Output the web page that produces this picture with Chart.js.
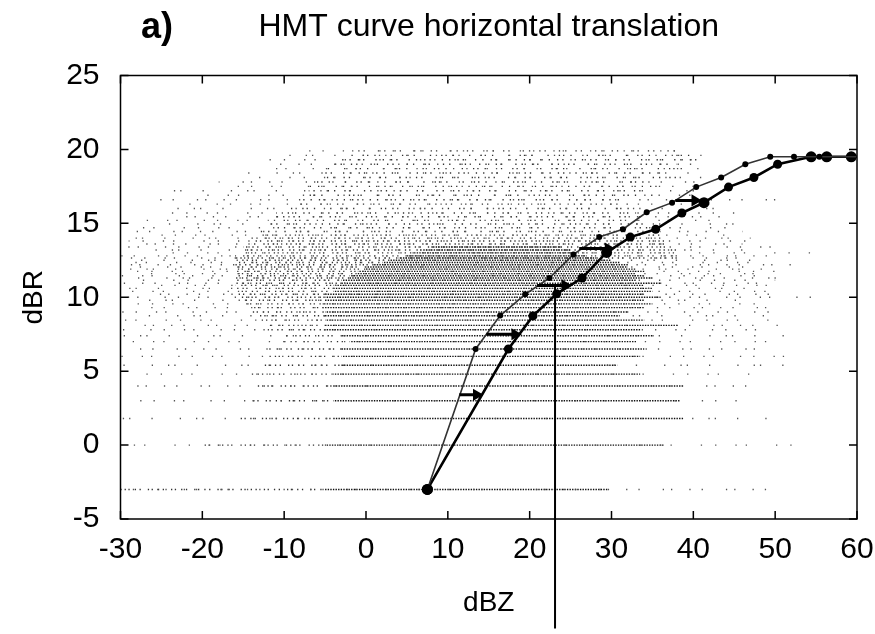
<!DOCTYPE html>
<html>
<head>
<meta charset="utf-8">
<title>HMT curve horizontal translation</title>
<script src="https://cdn.jsdelivr.net/npm/chart.js@4.4.1/dist/chart.umd.min.js"></script>
<style>
    html, body { margin: 0; padding: 0; background: #fff; }
    #wrap { width: 875px; height: 634px; }
</style>
</head>
<body>
<div id="wrap"><canvas id="hmtChart" width="875" height="634"></canvas></div>
<script>
/* ========================================
   HMT curve - horizontal translation (dBR vs dBZ)
   ======================================== */

// axis ticks
const xTicks = [-30, -20, -10, 0, 10, 20, 30, 40, 50, 60];
const yTicks = [-5, 0, 5, 10, 15, 20, 25];

// original HMT curve (thin line, small dots)
const hmtX = [7.5, 13.4, 16.4, 19.45, 22.4, 25.35, 28.5, 31.4, 34.3, 37.4, 40.35, 43.4, 46.35, 49.4, 52.3, 55.4, 60];
const hmtY = [-3, 6.5, 8.76, 10.2, 11.3, 12.9, 14.07, 14.6, 15.75, 16.4, 17.45, 18.1, 19.0, 19.5, 19.5, 19.5, 19.5];

// translated curve (thick line, big dots)
const movedX = [7.5, 17.4, 20.4, 23.3, 26.4, 29.4, 32.3, 35.4, 38.6, 41.3, 44.3, 47.4, 50.3, 54.4, 56.3, 59.3, 60];
const movedY = [-3, 6.5, 8.74, 10.23, 11.3, 13.03, 14.07, 14.6, 15.7, 16.4, 17.45, 18.1, 19.0, 19.5, 19.5, 19.5, 19.5];

// horizontal arrows (tail x, head x, level)
const arrowY = [3.4, 7.5, 10.8, 13.3, 16.55];
const arrowFrom = [11.4, 14.7, 20.9, 26.05, 37.8];
const arrowTo = [13.5, 18.2, 24.3, 29.6, 40.2];

// vertical arrow going down out of the plot
const downX = 23.1;
const downFrom = 10.8;
const downTo = -12.4;

// scatter cloud: quantised dBR rows and the x extents of their sparse / medium / dense parts
const cloudY = [-3.0, 0.0, 1.8, 3.0, 4.0, 4.8, 5.4, 6.0, 6.5, 7.0, 7.4, 7.8, 8.1, 8.45, 8.75, 9.0, 9.3, 9.55, 9.8, 10.0,
    10.2, 10.4, 10.6, 10.8, 10.95, 11.15, 11.3, 11.45, 11.6, 11.75, 11.9, 12.05, 12.2, 12.35, 12.5, 12.65, 12.8, 13.0, 13.2, 13.4,
    13.6, 13.8, 14.0, 14.2, 14.45, 14.7, 14.95, 15.2, 15.45, 15.7, 16.0, 16.3, 16.6, 16.9, 17.2, 17.5, 17.8, 18.1, 18.4, 18.7,
    19.0, 19.3, 19.6, 19.9];
const sparseFrom = [-30, -30, -30, -29.5, -29, -30, -30, -30, -28.5, -30, -30, -30, -29, -30, -29, -30, -28, -30, -29, -30,
    -28, -29, -30, -27, -30, -28, -29, -30, -27, -29, -30, -28, -29, -30, -28, -29, -30, -27, -29, -30,
    -28, -29, -30, -27, -29, -28, -26, -27, -24, -26, -25, -22, -27, -20, -24, -16, -18, -14, -15, -12,
    -11, -13, -10, -9];
const sparseTo = [50.5, 52.5, 49.5, 46, 46.5, 47.5, 51.5, 52, 48.5, 49.6, 52.7, 49.4, 51, 50.6, 50, 49.5, 50, 49.5, 47, 56,
    51, 50, 49, 50, 48, 50, 52, 49, 48, 51, 50, 48, 52, 49, 50, 47, 51, 54.5, 47, 50,
    46, 48, 47, 45, 46, 44, 45, 43, 44, 46, 45, 42, 52, 41, 42, 40, 42, 41, 40, 41,
    42, 43, 42, 40];
const midFrom = [-29.5, -20, -16, -14, -14, -14, -13, -12, -12, -10, -10, -12, -12, -13, -13, -14, -14, -15, -15, -16,
    -16, -16, -16, -16, -16, -16, -16, -16, -16, -16, -16, -16, -16, -16, -16, -16, -16, -15, -15, -15,
    -14, -14, -14, -13, -13, -12, -12, -12, -11, -11, -10, -9, -8, -8, -7, -7, -6, -6, -5, -5,
    -4, -4, -3, -2];
const midTo = [-5, -5, -4, -4, -4, -4, -3, -3, -3, -2, -3, -5, -5, -5, -5, -5, -5, -5, -5, -5,
    -5, -4, -4, -4, -3, -3, -2, -2, -1, -1, 0, 0, 1, 2, 3, 38, 38, 38, 38, 37,
    37, 37, 36, 36, 36, 35, 35, 34, 34, 33, 33, 32, 31, 35, 34, 36, 35, 38, 36, 40,
    38, 41, 40, 38];
const denseFrom = [-5, -5, -4, -4, -4, -4, -3, -3, -3, -2, -3, -5, -5, -5, -5, -5, -5, -5, -5, -5,
    -5, -4, -4, -4, -3, -3, -2, -2, -1, -1, 0, 0, 1, 2, 3, 4, 5, 6, 7, 8,
    null, null, null, null, null, null, null, null, null, null, null, null, null, null, null, null, null, null, null, null,
    null, null, null, null];
const denseTo = [29.5, 36.5, 38.8, 38.4, 38.8, 33.5, 30.7, 33.5, 34, 33, 35, 33.5, 38, 34, 31, 32, 34, 35, 34, 36,
    34, 35, 35, 34, 36, 33, 35, 34, 33, 34, 33, 32, 32, 31, 30, 28, 27, 26, 25, 24,
    null, null, null, null, null, null, null, null, null, null, null, null, null, null, null, null, null, null, null, null,
    null, null, null, null];

// dot patterns used to draw the cloud rows
const sparseDash = [
    [1.3, 11, 1.3, 23, 1.3, 7, 1.3, 17],
    [1.3, 19, 1.3, 9, 1.3, 29, 1.3, 13],
    [1.3, 15, 1.3, 5, 1.3, 21, 1.3, 27],
    [1.3, 8, 1.3, 26, 1.3, 12, 1.3, 19]
];
const midDash = [
    [1.3, 2.5, 1.3, 5, 1.3, 3.5, 1.3, 7],
    [1.3, 4, 1.3, 2.5, 1.3, 8, 1.3, 3],
    [1.3, 3, 1.3, 6, 1.3, 2.5, 1.3, 4.5]
];
const looseDash = [
    [1.3, 5, 1.3, 9, 1.3, 4, 1.3, 13],
    [1.3, 7, 1.3, 4, 1.3, 11, 1.3, 6],
    [1.3, 10, 1.3, 3, 1.3, 6, 1.3, 15]
];
const denseDash = [1.4, 1.2];

function rowLine(y, from, to, dash, offset, color) {
    return {
        data: [{ x: from, y: y }, { x: to, y: y }],
        borderColor: color,
        borderWidth: 1.4,
        borderDash: dash,
        borderDashOffset: offset,
        pointRadius: 0,
        order: 5
    };
}

function buildCloud() {
    const sets = [];
    cloudY.forEach((y, i) => {
        sets.push(rowLine(y, sparseFrom[i], sparseTo[i], sparseDash[i % 4], i * 7, '#555'));
        if (midFrom[i] !== null) {
            const dash = y > 14.3 ? looseDash[i % 3] : midDash[i % 3];
            sets.push(rowLine(y, midFrom[i], midTo[i], dash, i * 3, '#333'));
        }
        if (denseFrom[i] !== null) {
            sets.push(rowLine(y, denseFrom[i], denseTo[i], denseDash, i % 2, '#111'));
        }
    });
    return sets;
}

function buildArrows() {
    const sets = arrowY.map((y, i) => ({
        data: [{ x: arrowFrom[i], y: y }, { x: arrowTo[i], y: y }],
        borderColor: '#000',
        backgroundColor: '#000',
        borderWidth: 3,
        pointStyle: 'triangle',
        pointRotation: 90,
        pointRadius: [0, 7],
        pointBorderWidth: 0,
        order: 0
    }));
    sets.push({
        data: [{ x: downX, y: downFrom }, { x: downX, y: downTo }],
        borderColor: '#000',
        backgroundColor: '#000',
        borderWidth: 2,
        pointStyle: 'triangle',
        pointRotation: 180,
        pointRadius: [0, 6],
        pointBorderWidth: 0,
        clip: false,
        order: 0
    });
    return sets;
}

const hmtRadius = hmtX.map((x, i) => i === 0 ? 5.5 : (i === hmtX.length - 1 ? 0 : 3));
const movedRadius = movedX.map((x, i) => {
    if (i === movedX.length - 1) return 0;
    if (i === 0 || i === 5 || i === 9 || i >= 13) return 5.5;
    return 4.5;
});

// frame with inward ticks on all four sides (gnuplot style)
const framePlugin = {
    id: 'frame',
    afterDatasetsDraw(chart) {
        const { ctx, chartArea: a, scales } = chart;
        ctx.save();
        ctx.strokeStyle = '#000';
        ctx.lineWidth = 1.5;
        ctx.strokeRect(a.left, a.top, a.right - a.left, a.bottom - a.top);
        const len = 8;
        ctx.beginPath();
        xTicks.forEach(v => {
            const px = scales.x.getPixelForValue(v);
            ctx.moveTo(px, a.bottom); ctx.lineTo(px, a.bottom - len);
            ctx.moveTo(px, a.top); ctx.lineTo(px, a.top + len);
        });
        yTicks.forEach(v => {
            const py = scales.y.getPixelForValue(v);
            ctx.moveTo(a.left, py); ctx.lineTo(a.left + len, py);
            ctx.moveTo(a.right, py); ctx.lineTo(a.right - len, py);
        });
        ctx.stroke();
        ctx.restore();
    }
};

// panel letter on the left, title centred over the plot
const titlePlugin = {
    id: 'panelTitle',
    afterDraw(chart) {
        const { ctx, chartArea: a } = chart;
        ctx.save();
        ctx.fillStyle = '#000';
        ctx.textBaseline = 'middle';
        ctx.textAlign = 'left';
        ctx.font = "bold 36px 'Liberation Sans', Arial, sans-serif";
        ctx.fillText('a)', 141, 28);
        ctx.textAlign = 'center';
        ctx.font = "32px 'Liberation Sans', Arial, sans-serif";
        ctx.fillText('HMT curve horizontal translation', (a.left + a.right) / 2, 27);
        ctx.restore();
    }
};

// keep the plot frame where it is, no extra room for edge tick labels
function noEdgePadding(s) {
    s.paddingLeft = 0;
    s.paddingRight = 0;
    s.paddingTop = 0;
    s.paddingBottom = 0;
}

Chart.defaults.font.family = "'Liberation Sans', Arial, sans-serif";
Chart.defaults.color = '#000';

new Chart(document.getElementById('hmtChart'), {
    type: 'line',
    data: {
        datasets: [
            ...buildArrows(),
            {
                label: 'HMT',
                data: hmtX.map((x, i) => ({ x: x, y: hmtY[i] })),
                borderColor: '#333',
                backgroundColor: '#000',
                borderWidth: 1.6,
                pointRadius: hmtRadius,
                pointBorderWidth: 0,
                tension: 0,
                order: 1
            },
            {
                label: 'translated',
                data: movedX.map((x, i) => ({ x: x, y: movedY[i] })),
                borderColor: '#000',
                backgroundColor: '#000',
                borderWidth: 2.6,
                pointRadius: movedRadius,
                pointBorderWidth: 0,
                tension: 0,
                order: 1
            },
            ...buildCloud()
        ]
    },
    options: {
        responsive: false,
        animation: false,
        devicePixelRatio: 1,
        layout: { padding: { left: 0, top: 75.5, right: 18, bottom: 0 } },
        plugins: {
            legend: { display: false },
            tooltip: { enabled: false }
        },
        scales: {
            x: {
                type: 'linear',
                min: -30,
                max: 60,
                afterBuildTicks: s => { s.ticks = xTicks.map(v => ({ value: v })); },
                afterFit: s => { s.height = 115; noEdgePadding(s); },
                grid: { display: false, drawTicks: false },
                border: { display: false },
                ticks: { font: { size: 30 }, color: '#000', padding: 13, maxRotation: 0, autoSkip: false },
                title: { display: true, text: 'dBZ', font: { size: 28 }, color: '#000', padding: { top: 0, bottom: 14 } }
            },
            y: {
                type: 'linear',
                min: -5,
                max: 25,
                afterBuildTicks: s => { s.ticks = yTicks.map(v => ({ value: v })); },
                afterFit: s => { s.width = 120.5; noEdgePadding(s); },
                grid: { display: false, drawTicks: false },
                border: { display: false },
                ticks: { font: { size: 30 }, color: '#000', padding: 21 },
                title: { display: true, text: 'dBR', font: { size: 28 }, color: '#000', padding: { top: 17, bottom: 0 } }
            }
        }
    },
    plugins: [framePlugin, titlePlugin]
});
</script>
</body>
</html>
